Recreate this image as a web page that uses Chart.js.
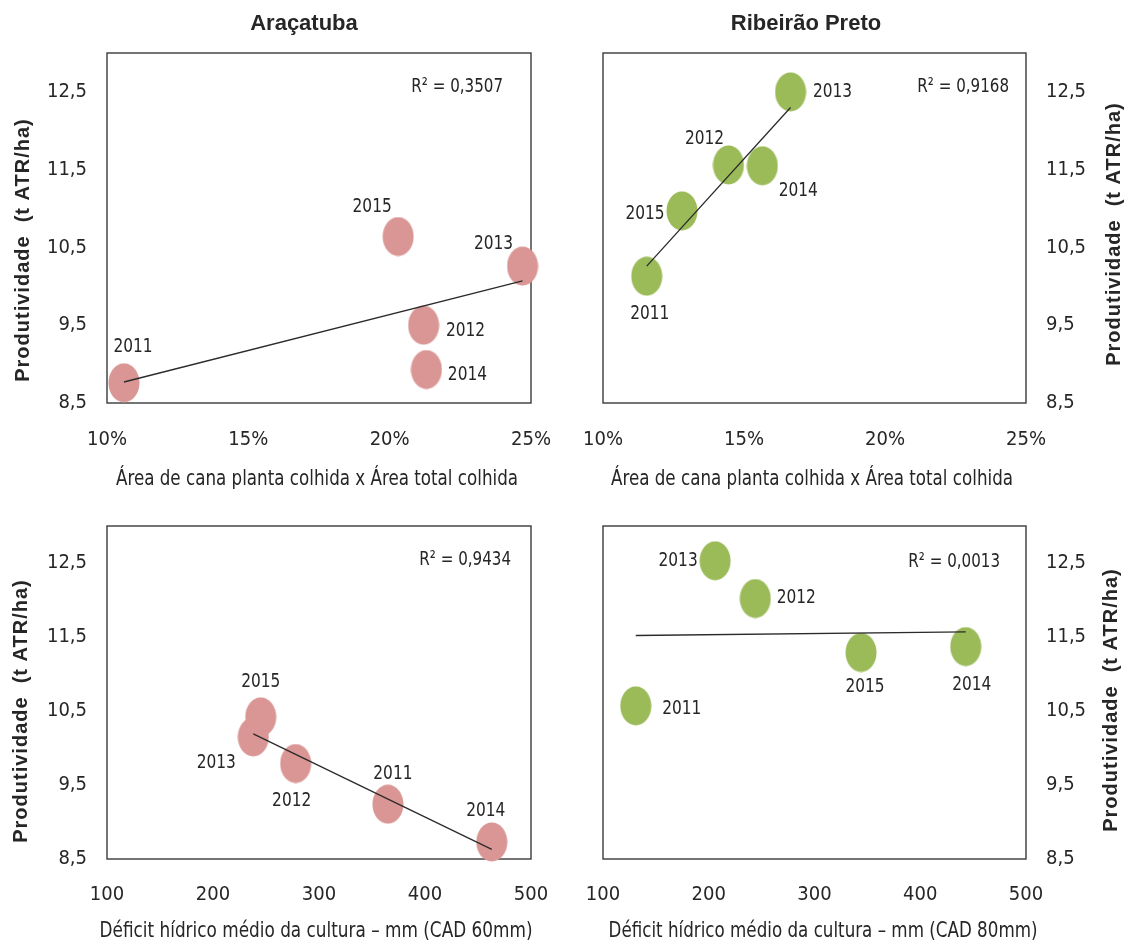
<!DOCTYPE html>
<html>
<head>
<meta charset="utf-8">
<script src="https://cdn.jsdelivr.net/npm/chart.js@4.4.1/dist/chart.umd.min.js"></script>
<style>
  html, body { margin: 0; padding: 0; background: #fff; }
  #wrap { position: relative; width: 1136px; height: 942px; overflow: hidden; }
  canvas { position: absolute; }
</style>
</head>
<body>
<div id="wrap">
  <canvas id="c1" width="560" height="490" style="left:0;top:0"></canvas>
  <canvas id="c2" width="576" height="490" style="left:560px;top:0"></canvas>
  <canvas id="c3" width="560" height="452" style="left:0;top:490px"></canvas>
  <canvas id="c4" width="576" height="452" style="left:560px;top:490px"></canvas>
</div>
<script>
//anos (mesma ordem em todas as séries)
var years = ['2011', '2012', '2013', '2014', '2015'];

//eixo y comum
var yTicks = [8.5, 9.5, 10.5, 11.5, 12.5];
var xTicksArea = [10, 15, 20, 25];
var xTicksDef = [100, 200, 300, 400, 500];

//Araçatuba - área de cana planta (%)
var araAreaX = [10.6, 21.2, 24.7, 21.3, 20.3];
var araAreaY = [8.76, 9.50, 10.26, 8.93, 10.64];
var araAreaTrendX = [10.6, 24.7];
var araAreaTrendY = [8.77, 10.07];

//Ribeirão Preto - área de cana planta (%)
var ribAreaX = [11.55, 14.45, 16.65, 15.65, 12.8];
var ribAreaY = [10.13, 11.56, 12.5, 11.55, 10.97];
var ribAreaTrendX = [11.55, 16.65];
var ribAreaTrendY = [10.26, 12.3];

//Araçatuba - déficit hídrico (mm)
var araDefX = [365, 278, 238, 463, 245];
var araDefY = [9.24, 9.79, 10.15, 8.73, 10.42];
var araDefTrendX = [238, 463];
var araDefTrendY = [10.19, 8.63];

//Ribeirão Preto - déficit hídrico (mm)
var ribDefX = [131, 244, 206, 443, 344];
var ribDefY = [10.57, 12.02, 12.53, 11.37, 11.29];
var ribDefTrendX = [131, 443];
var ribDefTrendY = [11.52, 11.57];

var TXT = '#262626';
var NARROW = "'Liberation Sans Narrow', 'DejaVu Sans Condensed', sans-serif";
Chart.defaults.font.family = NARROW;
Chart.defaults.color = TXT;

function makeBubble(color) {
    //marcador elíptico
    let c = document.createElement('canvas');
    c.width = 32;
    c.height = 40;
    let g = c.getContext('2d');
    g.fillStyle = color;
    g.beginPath();
    g.ellipse(16, 20, 15.5, 19.5, 0, 0, Math.PI * 2);
    g.fill();
    return c;
}

function toPts(xs, ys) {
    return xs.map((x, i) => ({ x: x, y: ys[i] }));
}

//texto estreito: escala horizontal
function narrowText(ctx, text, x, y, sx) {
    ctx.save();
    ctx.translate(x, y);
    ctx.scale(sx, 1);
    ctx.fillText(text, 0, 0);
    ctx.restore();
}

//caixa, rótulos dos anos, R², títulos
var panelPlugin = {
    id: 'panel',
    beforeDatasetsDraw(chart, args, opts) {
        let a = chart.chartArea, ctx = chart.ctx;
        ctx.save();
        ctx.strokeStyle = '#3a3a3a';
        ctx.lineWidth = 1.4;
        ctx.strokeRect(a.left, a.top, a.right - a.left, a.bottom - a.top);
        ctx.restore();
    },
    afterDatasetsDraw(chart, args, opts) {
        let a = chart.chartArea, ctx = chart.ctx;
        ctx.save();
        ctx.fillStyle = TXT;
        ctx.textBaseline = 'middle';
        ctx.textAlign = 'center';
        ctx.font = '19px ' + NARROW;
        chart.getDatasetMeta(1).data.forEach((pt, i) => {
            let off = opts.offsets[i];
            narrowText(ctx, years[i], pt.x + off[0], pt.y + off[1], 0.9);
        });

        //R²
        ctx.textAlign = 'right';
        ctx.font = '20px ' + NARROW;
        narrowText(ctx, opts.r2, a.right - opts.r2Pos[0], a.top + opts.r2Pos[1], 0.84);

        //título do eixo x (comprimido até a largura medida)
        ctx.textAlign = 'center';
        ctx.font = '22px ' + NARROW;
        ctx.fillText(opts.xTitle, opts.xTitlePos[0], opts.xTitlePos[1], opts.xTitlePos[2]);

        if (opts.title) {
            ctx.font = "bold 22px 'Liberation Sans', sans-serif";
            ctx.fillText(opts.title, opts.titlePos[0], opts.titlePos[1]);
        }
        ctx.translate(opts.yTitlePos[0], opts.yTitlePos[1]);
        ctx.rotate(-Math.PI / 2);
        ctx.font = "bold 20px 'Liberation Sans', sans-serif";
        ctx.letterSpacing = '1px';
        ctx.fillText('Produtividade  (t ATR/ha)', 0, 0);
        ctx.restore();
    }
};

function yAxis(pos, width) {
    return {
        type: 'linear', position: pos, min: 8.5, max: 13,
        grid: { display: false, drawTicks: false },
        border: { display: false },
        ticks: {
            padding: 20, color: TXT, font: { size: 20 }, autoSkip: false,
            callback: v => v.toFixed(1).replace('.', ',')
        },
        afterBuildTicks: s => { s.ticks = yTicks.map(v => ({ value: v })); },
        afterFit: s => {
            s.width = width;
            s.paddingTop = 0;
            s.paddingBottom = 0;
        }
    };
}

function xAxis(min, max, tickArr, fmt, height, pad) {
    return {
        type: 'linear', position: 'bottom', min: min, max: max,
        grid: { display: false, drawTicks: false },
        border: { display: false },
        ticks: {
            padding: pad, color: TXT, font: { size: 20 }, autoSkip: false, maxRotation: 0,
            callback: fmt
        },
        afterBuildTicks: s => { s.ticks = tickArr.map(v => ({ value: v })); },
        afterFit: s => {
            //a largura da caixa é controlada só pelo layout.padding
            s.height = height;
            s.paddingLeft = 0;
            s.paddingRight = 0;
        }
    };
}

function makePanel(id, cfg) {
    new Chart(document.getElementById(id), {
        type: 'scatter',
        data: {
            datasets: [{
                data: toPts(cfg.trendX, cfg.trendY),
                showLine: true, borderColor: '#2b2b2b', borderWidth: 1.3,
                pointRadius: 0, order: 0, clip: false
            }, {
                data: toPts(cfg.xs, cfg.ys),
                pointStyle: makeBubble(cfg.color), order: 1, clip: false
            }]
        },
        options: {
            responsive: false,
            animation: false,
            layout: { padding: cfg.padding },
            scales: { x: cfg.x, y: cfg.y },
            plugins: {
                legend: { display: false },
                tooltip: { enabled: false },
                panel: cfg.panel
            }
        },
        plugins: [panelPlugin]
    });
}

var pink = '#D99694';
var green = '#9BBB59';
var pct = v => v + '%';
var num = v => String(v);
var areaTitle = 'Área de cana planta colhida x Área total colhida';

makePanel('c1', {
    xs: araAreaX, ys: araAreaY, trendX: araAreaTrendX, trendY: araAreaTrendY, color: pink,
    padding: { left: 0, right: 29, top: 53, bottom: 0 },
    x: xAxis(10, 25, xTicksArea, pct, 87, 25),
    y: yAxis('left', 107),
    panel: {
        offsets: [[9, -36], [42, 6], [-29, -22], [41, 6], [-26, -29]],
        r2: 'R² = 0,3507', r2Pos: [28, 34],
        xTitle: areaTitle, xTitlePos: [317, 479, 402],
        title: 'Araçatuba', titlePos: [304, 24], yTitlePos: [23, 250]
    }
});

makePanel('c2', {
    xs: ribAreaX, ys: ribAreaY, trendX: ribAreaTrendX, trendY: ribAreaTrendY, color: green,
    padding: { left: 43, right: 0, top: 53, bottom: 0 },
    x: xAxis(10, 25, xTicksArea, pct, 87, 25),
    y: yAxis('right', 110),
    panel: {
        offsets: [[3, 38], [-24, -26], [42, 0], [36, 25], [-37, 3]],
        r2: 'R² = 0,9168', r2Pos: [17, 34],
        xTitle: areaTitle, xTitlePos: [252, 479, 402],
        title: 'Ribeirão Preto', titlePos: [246, 24], yTitlePos: [554, 234]
    }
});

makePanel('c3', {
    xs: araDefX, ys: araDefY, trendX: araDefTrendX, trendY: araDefTrendY, color: pink,
    padding: { left: 0, right: 29, top: 36, bottom: 0 },
    x: xAxis(100, 500, xTicksDef, num, 83, 24),
    y: yAxis('left', 107),
    panel: {
        offsets: [[5, -30], [-4, 38], [-37, 26], [-6, -31], [0, -35]],
        r2: 'R² = 0,9434', r2Pos: [20, 34],
        xTitle: 'Déficit hídrico médio da cultura – mm (CAD 60mm)', xTitlePos: [316, 441, 433],
        yTitlePos: [21, 221]
    }
});

makePanel('c4', {
    xs: ribDefX, ys: ribDefY, trendX: ribDefTrendX, trendY: ribDefTrendY, color: green,
    padding: { left: 43, right: 0, top: 36, bottom: 0 },
    x: xAxis(100, 500, xTicksDef, num, 83, 24),
    y: yAxis('right', 110),
    panel: {
        offsets: [[46, 3], [41, 0], [-37, 0], [6, 38], [4, 35]],
        r2: 'R² = 0,0013', r2Pos: [26, 36],
        xTitle: 'Déficit hídrico médio da cultura – mm (CAD 80mm)', xTitlePos: [263, 441, 429],
        yTitlePos: [551, 210]
    }
});
</script>
</body>
</html>
